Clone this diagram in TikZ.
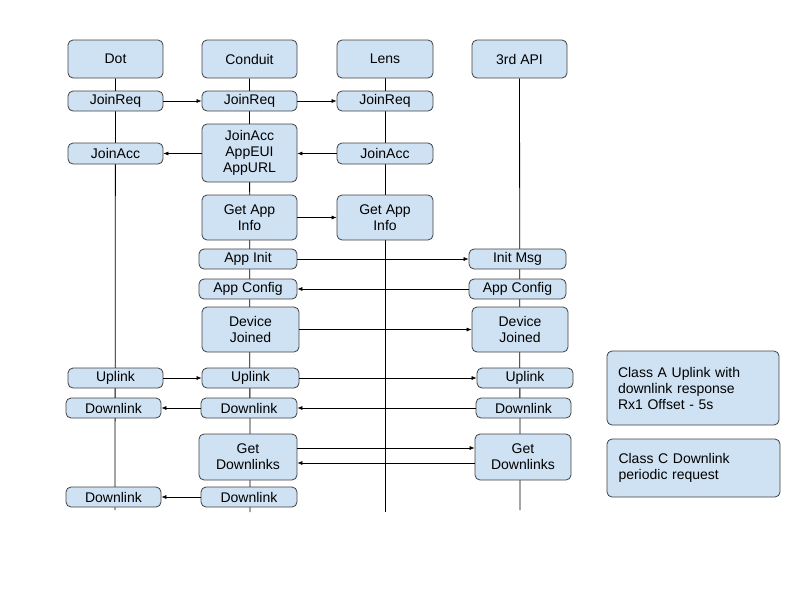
\documentclass[tikz,border=0pt]{standalone}
\usepackage{fontspec}
\setmainfont{Liberation Sans}
\usetikzlibrary{arrows.meta,backgrounds}
\definecolor{boxfill}{HTML}{CFE2F3}
\tikzset{
  bx/.style={draw=black!75,fill=boxfill,rounded corners=5pt,align=center,font=\fontsize{14}{16}\selectfont,inner sep=0pt,line width=0.8pt},
  msg/.style={-{Latex[length=5pt,width=4pt]},line width=0.6pt},
  life/.style={line width=0.8pt}
}
\newcommand{\bx}[6]{\node[bx,minimum width={#4-#2},minimum height={#5-#3}] (#1) at ({(#2+#4)/2},{(#3+#5)/2}) {#6};}
\begin{document}
\begin{tikzpicture}[x=1pt,y=-1pt]
\useasboundingbox (0,0) rectangle (800,600);
\bx{hdot}{68}{40}{163}{78}{Dot}
\bx{hcon}{202}{40}{297}{78}{Conduit}
\bx{hlens}{337}{40}{433}{78}{Lens}
\bx{hapi}{472}{40}{567}{78}{3rd API}
\coordinate (edot) at (115,510);
\coordinate (econ) at (250,512);
\coordinate (elens) at (385,512);
\coordinate (eapi) at (520,510);
\bx{jr1}{68}{91}{163}{111}{JoinReq}
\bx{jr2}{202}{91}{297}{111}{JoinReq}
\bx{jr3}{337}{91}{433}{111}{JoinReq}
\bx{ja2}{202}{124}{297}{182}{JoinAcc\\AppEUI\\AppURL}
\bx{ja1}{68}{143}{163}{164}{JoinAcc}
\bx{ja3}{337}{143}{433}{164}{JoinAcc}
\bx{ga2}{202}{195}{297}{240}{Get App\\Info}
\bx{ga3}{337}{195}{433}{240}{Get App\\Info}
\bx{ai2}{199}{249}{297}{269}{App Init}
\bx{ai4}{469}{249}{566}{269}{Init Msg}
\bx{ac2}{199}{279}{297}{299}{App Config}
\bx{ac4}{469}{279}{566}{299}{App Config}
\bx{dj2}{202}{307}{299}{352}{Device\\Joined}
\bx{dj4}{472}{307}{568}{352}{Device\\Joined}
\bx{ul1}{68}{368}{163}{388}{Uplink}
\bx{ul2}{202}{368}{299}{388}{Uplink}
\bx{ul4}{477}{368}{573}{388}{Uplink}
\bx{dl1}{66}{398}{161}{418}{Downlink}
\bx{dl2}{201}{398}{297}{418}{Downlink}
\bx{dl4}{476}{398}{571}{418}{Downlink}
\bx{gd2}{199}{434}{297}{480}{Get\\Downlinks}
\bx{gd4}{475}{434}{571}{480}{Get\\Downlinks}
\bx{dd1}{66}{487}{161}{507}{Downlink}
\bx{dd2}{201}{487}{297}{507}{Downlink}
\node[bx,align=left,minimum width=172,minimum height=74,text width=150] (na) at (693,388) {Class A Uplink with\\downlink response\\Rx1 Offset - 5s};
\node[bx,align=left,minimum width=173,minimum height=58,text width=150] (nc) at (693.5,468) {Class C Downlink\\periodic request};
\begin{pgfonlayer}{background}
\draw[life] (hdot) -- (edot);
\draw[life] (hcon) -- (econ);
\draw[life] (hlens) -- (elens);
\draw[life] (hapi) -- (eapi);
\end{pgfonlayer}
\draw[msg] (jr1) -- (jr2);
\draw[msg] (jr2) -- (jr3);
\draw[msg] (ja3) -- (ja2.east |- ja3);
\draw[msg] (ja2.west |- ja1) -- (ja1);
\draw[msg] (ga2) -- (ga3);
\draw[msg] (ai2) -- (ai4);
\draw[msg] (ac4) -- (ac2);
\draw[msg] (dj2) -- (dj4);
\draw[msg] (ul1) -- (ul2);
\draw[msg] (ul2) -- (ul4);
\draw[msg] (dl4) -- (dl2);
\draw[msg] (dl2) -- (dl1);
\draw[msg] (gd2.east |- 0,448) -- (gd4.west |- 0,448);
\draw[msg] (gd4.west |- 0,463) -- (gd2.east |- 0,463);
\draw[msg] (dd2) -- (dd1);
\end{tikzpicture}
\end{document}
